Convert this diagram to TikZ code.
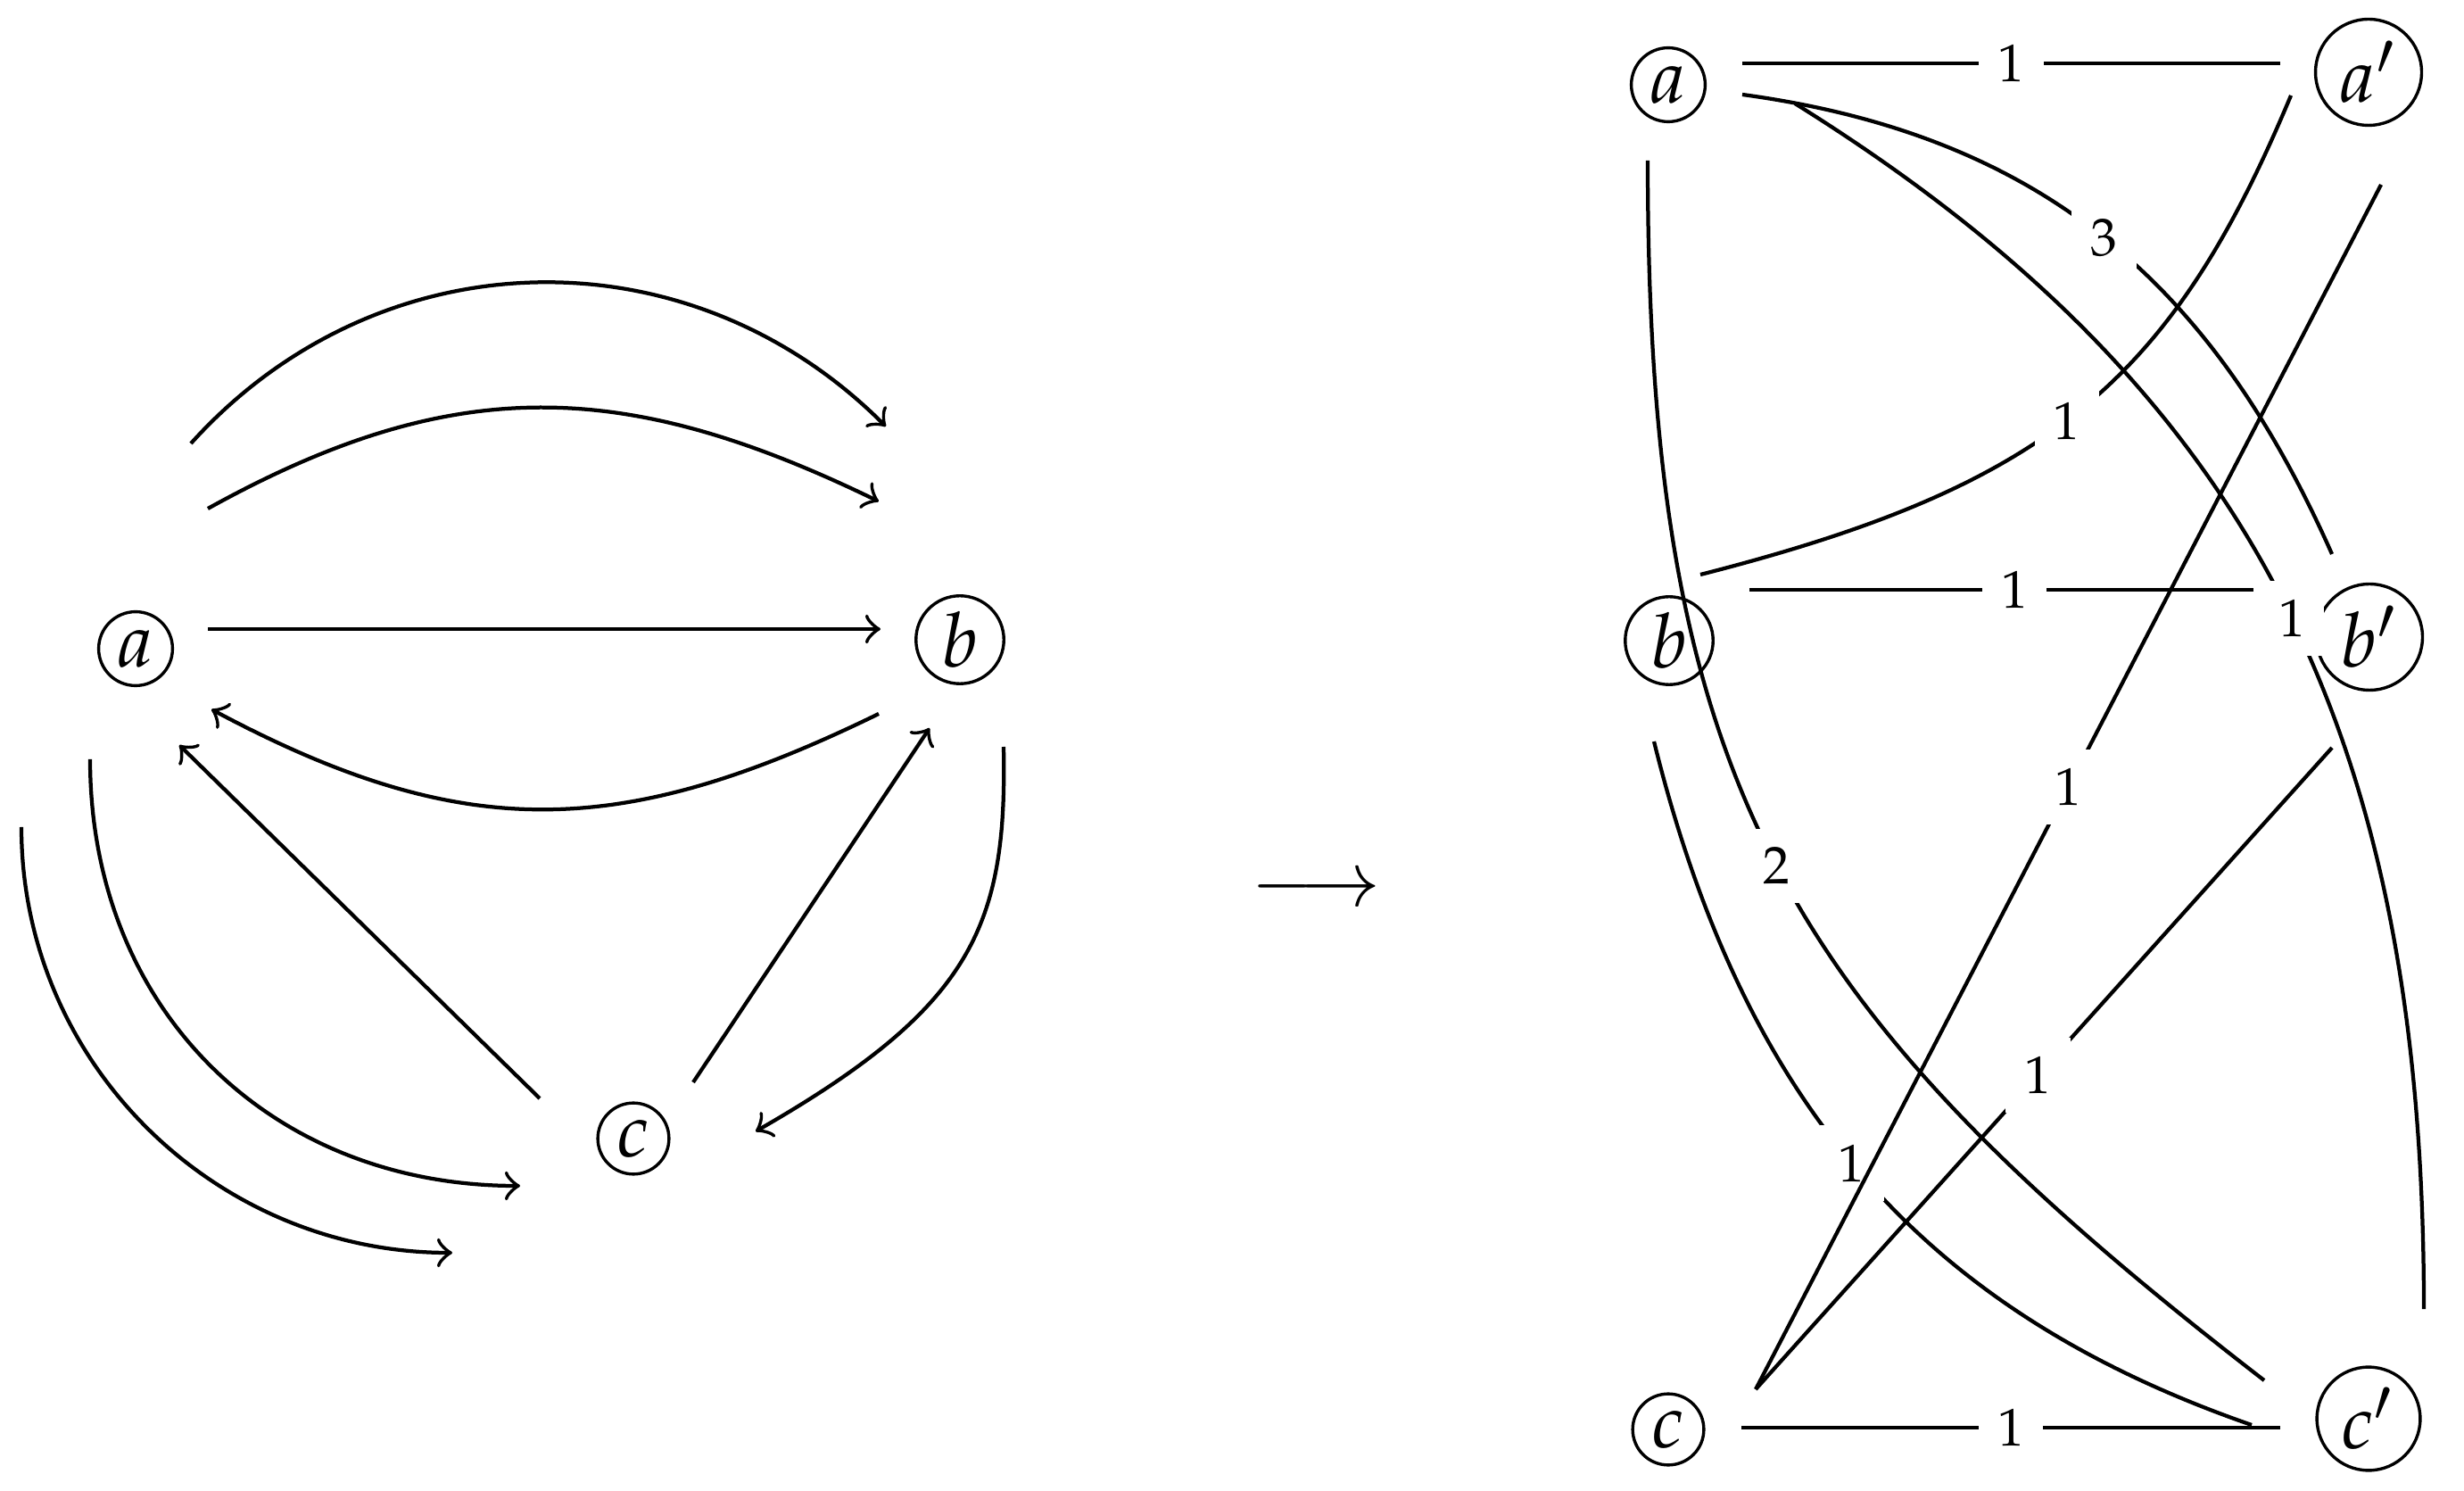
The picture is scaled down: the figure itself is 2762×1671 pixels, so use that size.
\documentclass[tikz,border=0pt]{standalone}
\usepackage{amsmath}
\usepackage{mathpazo}
\usetikzlibrary{calc}
\tikzset{
  vertex/.style={circle, draw, inner sep=1pt},
  weight/.style={fill=white, inner sep=2.5pt, font=\scriptsize},
  link/.style={line width=0.5pt},
}

\begin{document}
\begin{tikzpicture}[x=0.1177pt, y=-0.1177pt]
        \useasboundingbox (0,0) rectangle (2762,1671);
        % the graph
        \node[vertex] (la) at (152,727) {$a$};
        \node[vertex] (lb) at (1076,717) {$b$};
        \node[vertex] (lc) at (710,1276) {$c$};
        \draw[link,->] ($(la)+(62,-230)$) .. controls +(210,-233) and +(-222,-222) .. ($(lb)+(-83,-239)$);
        \draw[link,->] ($(la)+(81,-157)$) .. controls +(276,-153) and +(-284,-138) .. ($(lb)+(-91,-155)$);
        \draw[link,->] ($(la)+(81,-22)$) -- ($(lb)+(-89,-12)$);
        \draw[link,->] ($(lb)+(-91,83)$) .. controls +(-289,141) and +(283,151) .. ($(la)+(85,68)$);
        \draw[link,->] ($(lc)+(-105,-45)$) -- ($(la)+(49,108)$);
        \draw[link,->] ($(lc)+(67,-63)$) -- ($(lb)+(-34,99)$);
        \draw[link,->] ($(lb)+(49,120)$) .. controls +(4,200) and +(244,-140) .. ($(lc)+(137,-8)$);
        \draw[link,->] ($(la)+(-51,124)$) .. controls +(0,280) and +(-280,0) .. ($(lc)+(-127,53)$);
        \draw[link,->] ($(la)+(-128,200)$) .. controls +(0,265) and +(-265,0) .. ($(lc)+(-203,128)$);

        \node (arr) at (1475,999) {$\longrightarrow$};

        % the weighted graph
        \node[vertex] (ra) at (1870,95) {$a$};
        \node[vertex] (rap) at (2655,81) {$a'$};
        \node[vertex] (rb) at (1871,718) {$b$};
        \node[vertex] (rbp) at (2656,714) {$b'$};
        \node[vertex] (rc) at (1870,1602) {$c$};
        \node[vertex] (rcp) at (2655,1590) {$c'$};
        \draw[link] ($(ra)+(83,-24)$) -- ($(rap)+(-99,-10)$) node[weight,midway] {$1$};
        \draw[link] ($(rb)+(90,-57)$) -- ($(rbp)+(-130,-53)$) node[weight,pos=0.526] {$1$};
        \draw[link] ($(rc)+(82,-2)$) -- ($(rcp)+(-99,10)$) node[weight,midway] {$1$};
        \draw[link] ($(ra)+(83,11)$) .. controls +(347,47) and +(-130,-292) .. ($(rbp)+(-42,-93)$) node[weight,pos=0.49] {$3$};
        \draw[link] ($(ra)+(142,21)$) .. controls +(510,318) and +(0,-650) .. ($(rcp)+(62,-123)$) node[weight,pos=0.52] {$1$};
        \draw[link] ($(rb)+(35,-74)$) .. controls +(388,-99) and +(-135,323) .. ($(rap)+(-87,26)$) node[weight,pos=0.475] {$1$};
        \draw[link] ($(ra)+(-23,85)$) .. controls +(0,700) and +(-537,-415) .. ($(rcp)+(-117,-43)$) node[weight,pos=0.5] {$2$};
        \draw[link] ($(rb)+(-17,113)$) .. controls +(101,407) and +(-369,-128) .. ($(rcp)+(-131,7)$) node[weight,pos=0.48] {$1$};
        \draw[link] ($(rc)+(98,-45)$) -- ($(rbp)+(-42,124)$) node[weight,pos=0.49] {$1$};
        \draw[link] ($(rc)+(98,-45)$) -- ($(rap)+(14,126)$) node[weight,midway] {$1$};
    \end{tikzpicture}
\end{document}
